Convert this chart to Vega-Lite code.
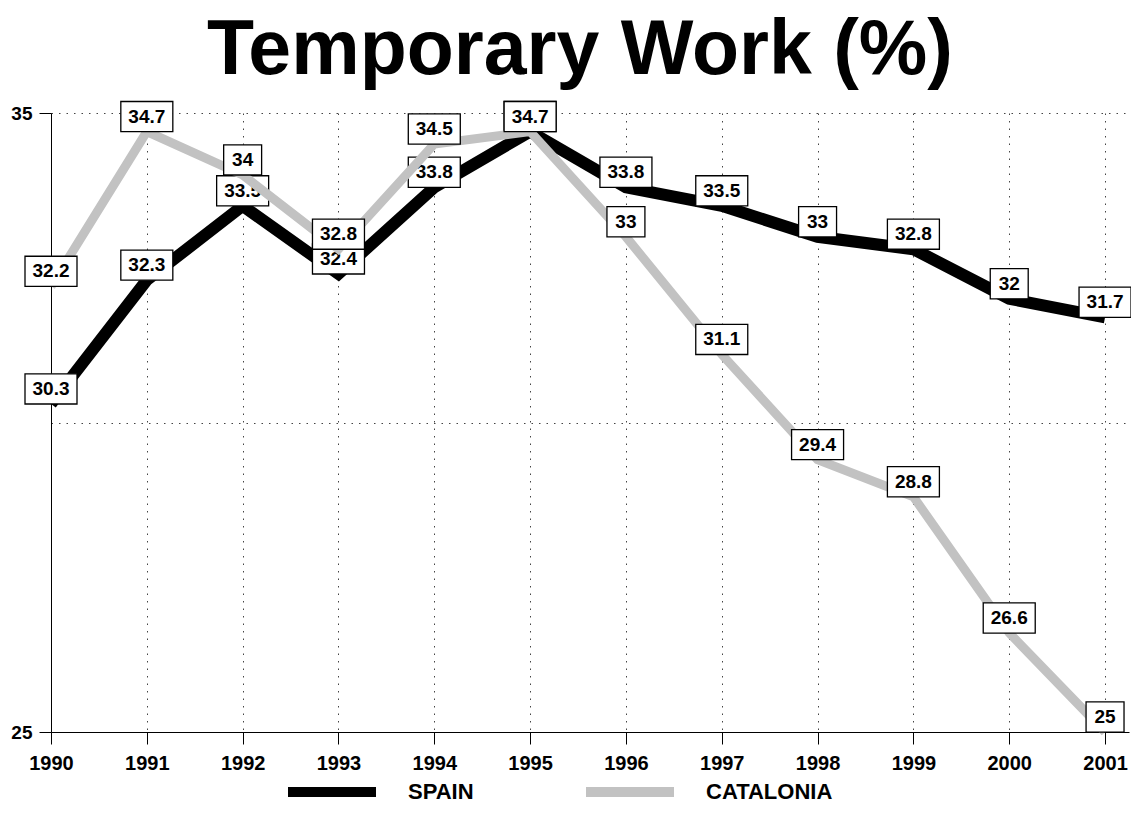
{
  "$schema": "https://vega.github.io/schema/vega-lite/v6.json",
  "autosize": {"type": "none"},
  "padding": {"left": 51, "top": 113, "right": 2, "bottom": 94},
  "width": 1078,
  "height": 619,
  "background": "white",
  "title": {
    "text": "Temporary Work (%)",
    "font": "Liberation Sans",
    "fontSize": 77,
    "fontWeight": "bold",
    "color": "black",
    "anchor": "middle",
    "frame": "group",
    "baseline": "alphabetic",
    "offset": -52,
    "dx": -10
  },
  "config": {
    "view": {"stroke": null},
    "font": "Liberation Sans"
  },
  "data": {
    "values": [
      {"year": 1990, "series": "SPAIN", "v": 30.3},
      {"year": 1991, "series": "SPAIN", "v": 32.3},
      {"year": 1992, "series": "SPAIN", "v": 33.5},
      {"year": 1993, "series": "SPAIN", "v": 32.4},
      {"year": 1994, "series": "SPAIN", "v": 33.8},
      {"year": 1995, "series": "SPAIN", "v": 34.7},
      {"year": 1996, "series": "SPAIN", "v": 33.8},
      {"year": 1997, "series": "SPAIN", "v": 33.5},
      {"year": 1998, "series": "SPAIN", "v": 33},
      {"year": 1999, "series": "SPAIN", "v": 32.8},
      {"year": 2000, "series": "SPAIN", "v": 32},
      {"year": 2001, "series": "SPAIN", "v": 31.7},
      {"year": 1990, "series": "CATALONIA", "v": 32.2},
      {"year": 1991, "series": "CATALONIA", "v": 34.7},
      {"year": 1992, "series": "CATALONIA", "v": 34},
      {"year": 1993, "series": "CATALONIA", "v": 32.8},
      {"year": 1994, "series": "CATALONIA", "v": 34.5},
      {"year": 1995, "series": "CATALONIA", "v": 34.7},
      {"year": 1996, "series": "CATALONIA", "v": 33},
      {"year": 1997, "series": "CATALONIA", "v": 31.1},
      {"year": 1998, "series": "CATALONIA", "v": 29.4},
      {"year": 1999, "series": "CATALONIA", "v": 28.8},
      {"year": 2000, "series": "CATALONIA", "v": 26.6},
      {"year": 2001, "series": "CATALONIA", "v": 25}
    ]
  },
  "encoding": {
    "x": {
      "field": "year",
      "type": "quantitative",
      "scale": {"domain": [1990, 2001.25], "nice": false, "zero": false},
      "axis": {
        "title": null,
        "values": [1990, 1991, 1992, 1993, 1994, 1995, 1996, 1997, 1998, 1999, 2000, 2001],
        "format": "d",
        "labelFont": "Liberation Sans",
        "labelFontSize": 20,
        "labelFontWeight": "bold",
        "labelColor": "black",
        "labelPadding": 9,
        "labelFlush": false,
        "labelOverlap": false,
        "tickSize": 12,
        "tickColor": "black",
        "domainColor": "black",
        "grid": true,
        "gridColor": "#444",
        "gridDash": [1.5, 6],
        "gridWidth": 1
      }
    },
    "y": {
      "field": "v",
      "type": "quantitative",
      "scale": {"domain": [25, 35], "nice": false, "zero": false},
      "axis": {
        "title": null,
        "values": [25, 30, 35],
        "labelExpr": "datum.value == 30 ? '' : datum.label",
        "labelFont": "Liberation Sans",
        "labelFontSize": 19,
        "labelFontWeight": "bold",
        "labelColor": "black",
        "labelPadding": 7,
        "labelFlush": false,
        "tickSize": 12,
        "tickColor": "black",
        "tickOpacity": {"condition": {"test": "datum.value == 30", "value": 0}, "value": 1},
        "domainColor": "black",
        "grid": true,
        "gridColor": "#444",
        "gridDash": [1.5, 6],
        "gridWidth": 1
      }
    }
  },
  "layer": [
    {
      "transform": [{"filter": "datum.series == 'SPAIN'"}],
      "mark": {"type": "line", "strokeWidth": 12, "strokeJoin": "miter"},
      "encoding": {
        "color": {
          "field": "series",
          "type": "nominal",
          "scale": {"domain": ["SPAIN", "CATALONIA"], "range": ["#000000", "#c2c2c2"]},
          "legend": {
            "title": null,
            "orient": "none",
            "direction": "horizontal",
            "legendX": 232,
            "legendY": 630,
            "symbolType": "stroke",
            "symbolSize": 7744,
            "symbolStrokeWidth": 10,
            "labelFont": "Liberation Sans",
            "labelFontSize": 22,
            "labelFontWeight": "bold",
            "labelColor": "black",
            "labelOffset": 27,
            "columnPadding": 92
          }
        }
      }
    },
    {
      "transform": [{"filter": "datum.series == 'SPAIN'"}],
      "mark": {"type": "point", "filled": true, "fill": "white", "stroke": "black", "strokeWidth": 1.3, "opacity": 1, "yOffset": -15, "size": 2704},
      "encoding": {
        "shape": {
          "condition": {"test": "datum.v % 1 == 0", "value": "M-0.73,-0.58L0.73,-0.58L0.73,0.58L-0.73,0.58Z"},
          "value": "M-1,-0.58L1,-0.58L1,0.58L-1,0.58Z"
        }
      }
    },
    {
      "transform": [{"filter": "datum.series == 'SPAIN'"}],
      "mark": {"type": "text", "font": "Liberation Sans", "fontSize": 19, "fontWeight": "bold", "color": "black", "baseline": "middle", "align": "center", "dy": -15},
      "encoding": {"text": {"field": "v", "type": "quantitative"}}
    },
    {
      "transform": [{"filter": "datum.series == 'CATALONIA'"}],
      "mark": {"type": "line", "strokeWidth": 9, "strokeJoin": "miter"},
      "encoding": {
        "color": {"field": "series", "type": "nominal"}
      }
    },
    {
      "transform": [{"filter": "datum.series == 'CATALONIA'"}],
      "mark": {"type": "point", "filled": true, "fill": "white", "stroke": "black", "strokeWidth": 1.3, "opacity": 1, "yOffset": -15, "size": 2704},
      "encoding": {
        "shape": {
          "condition": {"test": "datum.v % 1 == 0", "value": "M-0.73,-0.58L0.73,-0.58L0.73,0.58L-0.73,0.58Z"},
          "value": "M-1,-0.58L1,-0.58L1,0.58L-1,0.58Z"
        }
      }
    },
    {
      "transform": [{"filter": "datum.series == 'CATALONIA'"}],
      "mark": {"type": "text", "font": "Liberation Sans", "fontSize": 19, "fontWeight": "bold", "color": "black", "baseline": "middle", "align": "center", "dy": -15},
      "encoding": {"text": {"field": "v", "type": "quantitative"}}
    }
  ]
}
